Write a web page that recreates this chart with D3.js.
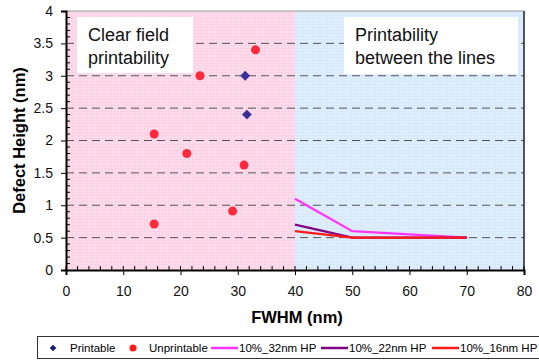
<!DOCTYPE html>
<html>
<head>
<meta charset="utf-8">
<script src="https://cdn.jsdelivr.net/npm/d3@7"></script>
<style>
  body { margin: 0; background: #fff; }
  text { font-family: "Liberation Sans", Arial, sans-serif; }
</style>
</head>
<body>
<svg id="chart" width="539" height="360"></svg>
<script>
const printable = [
  { x: 31.3, y: 3.0 },
  { x: 31.6, y: 2.4 }
];
const unprintable = [
  { x: 15.4, y: 2.1 },
  { x: 21.1, y: 1.8 },
  { x: 23.4, y: 3.0 },
  { x: 33.1, y: 3.4 },
  { x: 31.1, y: 1.62 },
  { x: 29.1, y: 0.91 },
  { x: 15.4, y: 0.71 }
];
const fwhm = [40, 50, 70];
const hp32 = [1.1, 0.6, 0.5];
const hp22 = [0.7, 0.5, 0.5];
const hp16 = [0.6, 0.5, 0.5];
const lineSeries = [
  { name: '10%_32nm HP', values: hp32, color: '#ff33ff' },
  { name: '10%_22nm HP', values: hp22, color: '#800080' },
  { name: '10%_16nm HP', values: hp16, color: '#ff1a1a' }
];
const xTicks = [0, 10, 20, 30, 40, 50, 60, 70, 80];
const yTicks = [0, 0.5, 1, 1.5, 2, 2.5, 3, 3.5, 4];

const MARGINS = { top: 11, left: 66, right: 15, bottom: 90 };
const svg = d3.select('#chart');
const width = 539, height = 360;

const x = d3.scaleLinear().domain([0, 80]).range([MARGINS.left, width - MARGINS.right]);
const y = d3.scaleLinear().domain([0, 4]).range([height - MARGINS.bottom, MARGINS.top]);

// fine background grid pattern
const defs = svg.append('defs');
function gridPattern(id, bg, line) {
  const p = defs.append('pattern').attr('id', id)
    .attr('width', 3).attr('height', 3).attr('patternUnits', 'userSpaceOnUse');
  p.append('rect').attr('width', 3).attr('height', 3).attr('fill', bg);
  p.append('path').attr('d', 'M0,0.5H3M0.5,0V3').attr('stroke', line).attr('stroke-width', 0.6);
}
gridPattern('pinkGrid', '#ffdcec', '#f9cfe0');
gridPattern('blueGrid', '#e0efff', '#d3e5f6');

svg.append('rect')
  .attr('x', x(0)).attr('y', y(4))
  .attr('width', x(40) - x(0)).attr('height', y(0) - y(4))
  .attr('fill', 'url(#pinkGrid)');
svg.append('rect')
  .attr('x', x(40)).attr('y', y(4))
  .attr('width', x(80) - x(40)).attr('height', y(0) - y(4))
  .attr('fill', 'url(#blueGrid)');

// dashed gridlines
svg.append('g').selectAll('line')
  .data(yTicks.filter(t => t > 0 && t < 4))
  .join('line')
  .attr('x1', x(0)).attr('x2', x(80))
  .attr('y1', d => y(d)).attr('y2', d => y(d))
  .attr('stroke', '#555').attr('stroke-width', 1)
  .attr('stroke-dasharray', '8,5');

// top and right frame
svg.append('line').attr('x1', x(0)).attr('x2', x(80)).attr('y1', y(4)).attr('y2', y(4))
  .attr('stroke', '#999').attr('stroke-width', 1);
svg.append('line').attr('x1', x(80)).attr('x2', x(80)).attr('y1', y(4)).attr('y2', y(0))
  .attr('stroke', '#222').attr('stroke-width', 1.5);

// text boxes
function noteBox(x0, y0, w, h, lines) {
  svg.append('rect').attr('x', x0).attr('y', y0).attr('width', w).attr('height', h).attr('fill', '#fff');
  svg.append('text').attr('x', x0 + 11).attr('y', y0 + 24)
    .attr('font-size', 18).attr('fill', '#111')
    .selectAll('tspan').data(lines).join('tspan')
    .attr('x', x0 + 11).attr('dy', (d, i) => i === 0 ? 0 : 23).text(d => d);
}
noteBox(77, 17, 116, 56, ['Clear field', 'printability']);
noteBox(344, 17, 174, 57, ['Printability', 'between the lines']);

// lines
const line = d3.line().x((d, i) => x(fwhm[i])).y(d => y(d));
svg.append('g').selectAll('path')
  .data(lineSeries)
  .join('path')
  .attr('d', d => line(d.values))
  .attr('fill', 'none')
  .attr('stroke', d => d.color)
  .attr('stroke-width', 2.2);

// points
svg.append('g').selectAll('circle')
  .data(unprintable)
  .join('circle')
  .attr('cx', d => x(d.x)).attr('cy', d => y(d.y))
  .attr('r', 4.5).attr('fill', '#ff2a3c');

const diamond = d3.symbol().type(d3.symbolSquare).size(48);
svg.append('g').selectAll('path')
  .data(printable)
  .join('path')
  .attr('transform', d => `translate(${x(d.x)},${y(d.y)}) rotate(45)`)
  .attr('d', diamond)
  .attr('fill', '#3a2f96');

// axes
const xAxis = svg.append('g')
  .attr('transform', `translate(0,${y(0)})`)
  .call(d3.axisBottom(x).tickValues(xTicks).tickSize(5).tickPadding(11));
xAxis.select('.domain').attr('stroke', '#000').attr('stroke-width', 2);
xAxis.selectAll('.tick text').attr('font-size', 14).attr('fill', '#111')
  .style('font-family', '"Liberation Sans", Arial, sans-serif');
svg.append('g').selectAll('line')
  .data(d3.range(0, 81, 2))
  .join('line')
  .attr('x1', d => x(d)).attr('x2', d => x(d))
  .attr('y1', y(0)).attr('y2', y(0) - 4)
  .attr('stroke', '#000').attr('stroke-width', 1);

const yAxis = svg.append('g')
  .attr('transform', `translate(${x(0)},0)`)
  .call(d3.axisLeft(y).tickValues(yTicks).tickSize(5).tickPadding(8).tickFormat(d3.format('')));
yAxis.select('.domain').attr('stroke', '#000').attr('stroke-width', 2);
yAxis.selectAll('.tick text').attr('font-size', 14).attr('fill', '#111')
  .style('font-family', '"Liberation Sans", Arial, sans-serif');
svg.append('g').selectAll('line')
  .data(d3.range(1, 40).map(v => v / 10).filter(v => Math.round(v * 10) % 5 !== 0))
  .join('line')
  .attr('x1', x(0)).attr('x2', x(0) + 4)
  .attr('y1', d => y(d)).attr('y2', d => y(d))
  .attr('stroke', '#000').attr('stroke-width', 1);

// axis titles
svg.append('text')
  .attr('x', (x(0) + x(80)) / 2 + 2).attr('y', 323)
  .attr('text-anchor', 'middle').attr('font-size', 16.5).attr('font-weight', 'bold')
  .text('FWHM (nm)');
svg.append('text')
  .attr('transform', `translate(25,${(y(0) + y(4)) / 2}) rotate(-90)`)
  .attr('text-anchor', 'middle').attr('font-size', 16.5).attr('font-weight', 'bold')
  .text('Defect Height (nm)');

// legend
const lg = svg.append('g');
lg.append('rect').attr('x', 37.5).attr('y', 336.5).attr('width', 510).attr('height', 22)
  .attr('fill', '#fff').attr('stroke', '#333').attr('stroke-width', 1);
lg.append('path').attr('transform', 'translate(53,348) rotate(45)')
  .attr('d', d3.symbol().type(d3.symbolSquare).size(22)).attr('fill', '#1a1a80');
lg.append('text').attr('x', 70).attr('y', 352).attr('font-size', 11.5).text('Printable');
lg.append('circle').attr('cx', 133).attr('cy', 348).attr('r', 3.5).attr('fill', '#ff1a1a');
lg.append('text').attr('x', 149).attr('y', 352).attr('font-size', 11.5).text('Unprintable');
const lx = [211, 321, 432];
lineSeries.forEach((s, i) => {
  lg.append('line').attr('x1', lx[i]).attr('x2', lx[i] + 27).attr('y1', 348).attr('y2', 348)
    .attr('stroke', s.color).attr('stroke-width', 2.5);
  lg.append('text').attr('x', lx[i] + 28).attr('y', 352).attr('font-size', 11.5).text(s.name);
});
</script>
</body>
</html>
